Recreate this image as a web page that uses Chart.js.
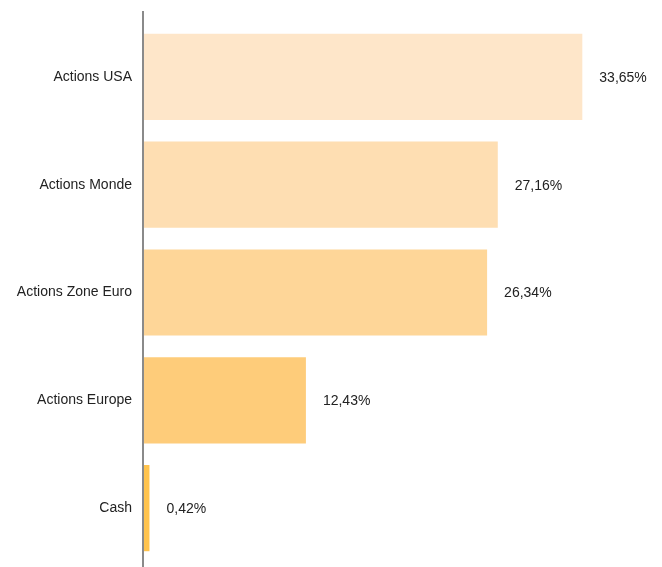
<!DOCTYPE html>
<html>
<head>
<meta charset="utf-8">
<script src="https://cdn.jsdelivr.net/npm/chart.js@4"></script>
<style>
  html, body { margin: 0; padding: 0; background: #fff; }
  canvas { display: block; }
</style>
</head>
<body>
<canvas id="allocChart" width="662" height="567"></canvas>
<script>
// === ALLOCATION CHART ===
const categories = ['Actions USA', 'Actions Monde', 'Actions Zone Euro', 'Actions Europe', 'Cash'];
const weights = [33.65, 27.16, 26.34, 12.43, 0.42];
const barColors = ['#FEE6C9', '#FEDEB2', '#FED698', '#FECC7A', '#FFC34D'];

const FONT = 'Arial, "Liberation Sans", sans-serif';
const fmtPct = v => v.toFixed(2).replace('.', ',') + '%';

// value labels to the right of each bar
const valueLabels = {
    id: 'valueLabels',
    afterDatasetsDraw(chart) {
        const ctx = chart.ctx;
        const meta = chart.getDatasetMeta(0);
        ctx.save();
        ctx.font = '14px ' + FONT;
        ctx.fillStyle = '#222';
        ctx.textAlign = 'left';
        ctx.textBaseline = 'middle';
        meta.data.forEach((bar, i) => {
            ctx.fillText(fmtPct(weights[i]), bar.x + 17, bar.y + 1);
        });
        ctx.restore();
    }
};

// vertical axis line, a bit longer than the plot area
const axisLine = {
    id: 'axisLine',
    afterDraw(chart) {
        const { ctx, chartArea } = chart;
        ctx.save();
        ctx.strokeStyle = '#8a8a8a';
        ctx.lineWidth = 2;
        ctx.beginPath();
        ctx.moveTo(chartArea.left - 1, 11);
        ctx.lineTo(chartArea.left - 1, chart.height);
        ctx.stroke();
        ctx.restore();
    }
};

new Chart(document.getElementById('allocChart').getContext('2d'), {
    type: 'bar',
    data: {
        labels: categories,
        datasets: [{ data: weights, backgroundColor: barColors, borderWidth: 0, barPercentage: 0.8, categoryPercentage: 1 }]
    },
    options: {
        indexAxis: 'y', responsive: false, animation: false,
        layout: { padding: { top: 23, bottom: 5, left: 0, right: 10 } },
        plugins: { legend: { display: false }, tooltip: { enabled: false } },
        scales: {
            x: { display: false, min: 0, max: 39 },
            y: {
                grid: { display: false, drawTicks: false },
                border: { display: false },
                ticks: { color: '#222', padding: 12, font: { family: FONT, size: 14 } },
                afterFit: s => { s.width = 144; s.paddingTop = 0; s.paddingBottom = 0; }
            }
        }
    },
    plugins: [valueLabels, axisLine]
});
</script>
</body>
</html>
